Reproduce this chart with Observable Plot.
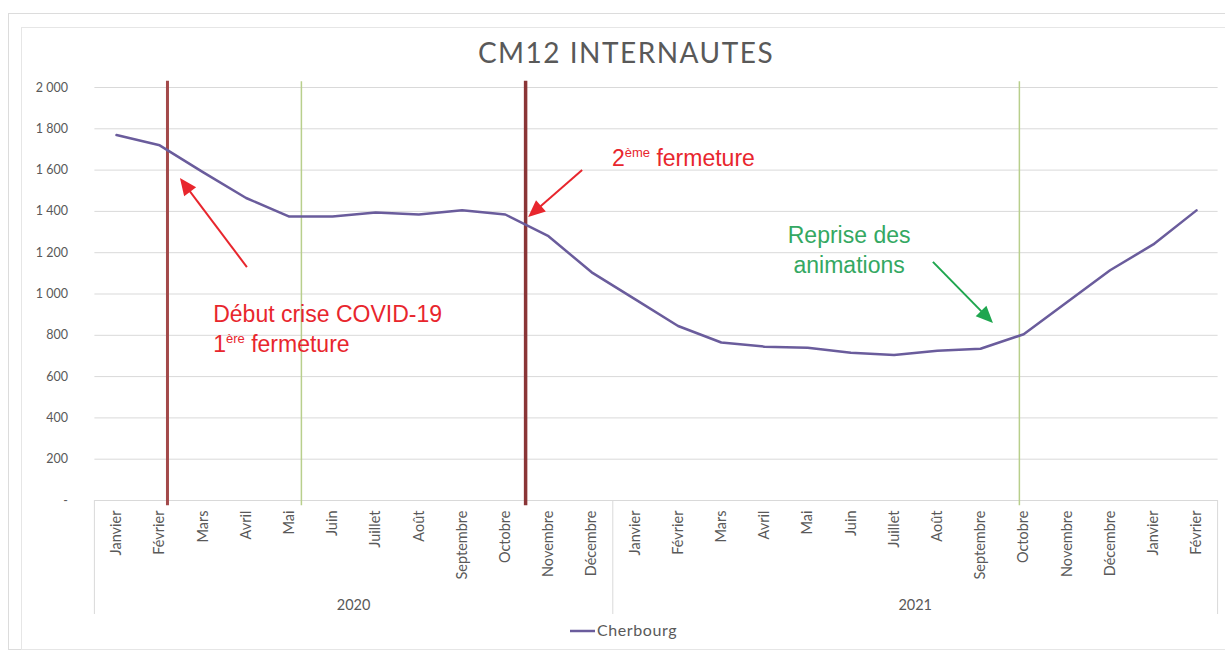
<!DOCTYPE html>
<html><head><meta charset="utf-8">
<script src="https://cdn.jsdelivr.net/npm/d3@7"></script>
<script src="https://cdn.jsdelivr.net/npm/@observablehq/plot@0.6"></script>
<style>
html,body{margin:0;padding:0;background:#fff;}
#chart svg{display:block;overflow:visible}
</style></head><body><div id="chart"></div>
<script>
// ---- data ----
const months = ["Janvier","Février","Mars","Avril","Mai","Juin","Juillet","Août","Septembre","Octobre","Novembre","Décembre",
                "Janvier","Février","Mars","Avril","Mai","Juin","Juillet","Août","Septembre","Octobre","Novembre","Décembre","Janvier","Février"];
const cherbourg = [1770,1720,1590,1465,1375,1375,1395,1385,1405,1385,1280,1105,
                   975,845,765,745,740,715,705,725,735,805,960,1115,1240,1405];
const seriesName = "Cherbourg";
const years = ["2020","2021"];
const yearFirst = [0,12];
const yearLast = [11,25];
const yTicks = [0,200,400,600,800,1000,1200,1400,1600,1800,2000];
const title = "CM12 INTERNAUTES";
// vertical event rules (position in month index)
const closures = [1.18, 9.47];
const reopenings = [4.28, 20.9];
// annotations (month index, value)
const redNotes = [
  {x: 2.25, y: 862, lines: [[["Début crise COVID-19",false]], [["1",false],["ère",true],[" fermeture",false]]], anchor: "start"},
  {x: 11.48, y: 1617, lines: [[["2",false],["ème",true],[" fermeture",false]]], anchor: "start"}
];
const greenNotes = [
  {x: 16.97, y: 1245, lines: [[["Reprise des",false]], [["animations",false]]], anchor: "middle"}
];
const redArrows = [
  {x1: 3.03, y1: 1128, x2: 1.48, y2: 1559},
  {x1: 10.79, y1: 1598, x2: 9.54, y2: 1370}
];
const greenArrows = [
  {x1: 18.91, y1: 1153, x2: 20.3, y2: 857}
];

const table = months.map((m,i) => ({i, month: m, value: cherbourg[i]}));

const GRAY = "#595959", GRID = "#d9d9d9", LINE = "#6a5c9c";
const RED = "#e8262d", GREEN = "#34a862", GREEN_ARROW = "#1fa64f";

function notesMark(notes, color) {
  return (index, scales, values, dim) => {
    const g = d3.create("svg:g").attr("font-family", "'Liberation Sans', Arial, sans-serif").attr("font-size", 23).attr("fill", color);
    for (const n of notes) {
      n.lines.forEach((line, li) => {
        const t = g.append("text").attr("x", scales.x(n.x)).attr("y", scales.y(n.y) + li * 30).attr("text-anchor", n.anchor);
        for (const [s, sup] of line) {
          const ts = t.append("tspan").text(s);
          if (sup) ts.attr("font-size", 13).attr("baseline-shift", "9");
        }
      });
    }
    return g.node();
  };
}
function arrowsMark(arrows, color, w) {
  return (index, scales) => {
    const g = d3.create("svg:g");
    for (const a of arrows) {
      const x1 = scales.x(a.x1), y1 = scales.y(a.y1), x2 = scales.x(a.x2), y2 = scales.y(a.y2);
      const L = Math.hypot(x2 - x1, y2 - y1), ux = (x2 - x1) / L, uy = (y2 - y1) / L;
      const hl = 17, hw = 7.5;
      const bx = x2 - ux * hl, by = y2 - uy * hl;
      g.append("line").attr("x1", x1).attr("y1", y1).attr("x2", bx + ux * 2).attr("y2", by + uy * 2)
        .attr("stroke", color).attr("stroke-width", w);
      g.append("path").attr("d", `M${x2},${y2}L${bx - uy * hw},${by + ux * hw}L${bx + uy * hw},${by - ux * hw}Z`).attr("fill", color);
    }
    return g.node();
  };
}
function decorMark(index, scales, values, dim) {
  const g = d3.create("svg:g");
  // chart frames
  g.append("rect").attr("x", 8.5).attr("y", 13.5).attr("width", 1240).attr("height", 636).attr("fill", "none").attr("stroke", "#dcdcdc");
  g.append("rect").attr("x", 21.5).attr("y", 27.5).attr("width", 1240).attr("height", 622).attr("fill", "none").attr("stroke", "#e6e6e6");
  // title
  g.append("text").attr("x", 626).attr("y", 63).attr("text-anchor", "middle").attr("font-family", "Lato, sans-serif")
    .attr("font-size", 28).attr("letter-spacing", 1.5).attr("fill", GRAY).text(title);
  // year groups
  const yb = dim.height - dim.marginBottom;
  const bounds = [yearFirst[0] - 0.5, ...yearLast.map(d => d + 0.5)];
  for (const b of bounds) {
    g.append("line").attr("x1", scales.x(b)).attr("x2", scales.x(b)).attr("y1", yb).attr("y2", yb + 114).attr("stroke", GRID);
  }
  years.forEach((y, k) => {
    g.append("text").attr("x", (scales.x(yearFirst[k] - 0.5) + scales.x(yearLast[k] + 0.5)) / 2).attr("y", yb + 110)
      .attr("text-anchor", "middle").attr("font-family", "Lato, sans-serif").attr("font-size", 14.5).attr("fill", GRAY).text(y);
  });
  // legend
  g.append("line").attr("x1", 570).attr("x2", 595).attr("y1", 631).attr("y2", 631).attr("stroke", LINE).attr("stroke-width", 2.5);
  g.append("text").attr("x", 597).attr("y", 636).attr("text-anchor", "start").attr("font-family", "Lato, sans-serif")
    .attr("font-size", 16).attr("letter-spacing", 0.6).attr("fill", GRAY).text(seriesName);
  return g.node();
}

const chart = Plot.plot({
  width: 1225, height: 653,
  marginLeft: 94.4, marginRight: 7.4, marginTop: 87, marginBottom: 153,
  x: {domain: [-0.5, 25.5]},
  y: {domain: [0, 2000]},
  style: {fontFamily: "Lato, sans-serif", background: "#fff", overflow: "visible"},
  marks: [
    decorMark,
    Plot.ruleY(yTicks, {stroke: GRID, strokeWidth: 1}),
    Plot.axisY({ticks: yTicks, tickSize: 0, tickPadding: 27, fontSize: 12.5, fill: GRAY, label: null,
      tickFormat: d => d === 0 ? "-" : d3.format(",")(d).replace(",", " ")}),
    Plot.axisX({ticks: d3.range(months.length), tickFormat: i => months[i], tickRotate: -90, tickSize: 0, tickPadding: 10,
      fontSize: 14.5, fill: GRAY, label: null}),
    Plot.ruleX(reopenings, {y1: -25, y2: 2028, stroke: "#b8cf8c", strokeWidth: 1.5}),
    Plot.ruleX(closures.slice(0,1), {y1: -25, y2: 2030, stroke: "#a3494a", strokeWidth: 3}),
    Plot.ruleX(closures.slice(1), {y1: -25, y2: 2030, stroke: "#8a3537", strokeWidth: 3.5}),
    Plot.line(table, {x: "i", y: "value", stroke: LINE, strokeWidth: 2.5}),
    arrowsMark(redArrows, RED, 2),
    arrowsMark(greenArrows, GREEN_ARROW, 2),
    notesMark(redNotes, RED),
    notesMark(greenNotes, GREEN)
  ]
});
document.getElementById("chart").appendChild(chart);
</script></body></html>
